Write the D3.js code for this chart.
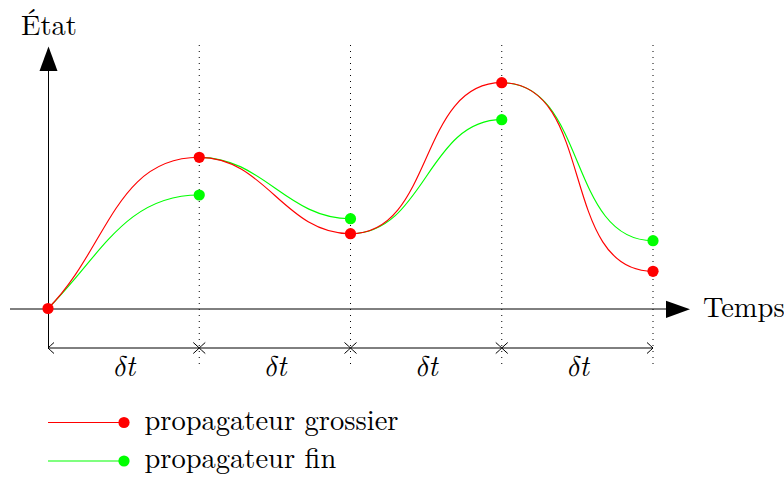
<!DOCTYPE html>
<html><head><meta charset="utf-8">
<script src="https://cdn.jsdelivr.net/npm/d3@7"></script>
<style>html,body{margin:0;padding:0;background:#fff;} svg{display:block;}</style>
</head><body>
<svg id="chart" width="784" height="477"></svg>
<script>
// ---- data ----
const steps = [0, 1, 2, 3, 4];
const coarse = [0, 1.512, 0.748, 2.258, 0.372];   // propagateur grossier
const fine   = [0, 1.135, 0.898, 1.888, 0.678];   // propagateur fin (end of each fine step)
const stepLabels = ["δt", "δt", "δt", "δt"];
const seriesNames = ["propagateur grossier", "propagateur fin"];
const seriesColors = ["#ff0000", "#00ff00"];
const axisLabels = { x: "Temps", y: "État" };

const FONT = "'Latin Modern Roman', 'Liberation Serif', serif";
const GREEK = "'Latin Modern Math', 'Liberation Serif', serif";
const FS = 28.5;

const svg = d3.select("#chart");
const x = d3.scaleLinear().domain([0, 4]).range([48, 653]);
const y = d3.scaleLinear().domain([0, 1]).range([308.5, 208.5]);

// dotted vertical lines
svg.append("g").selectAll("line").data(steps.slice(1)).join("line")
  .attr("x1", d => x(d)).attr("x2", d => x(d))
  .attr("y1", 45).attr("y2", 366)
  .attr("stroke", "#000").attr("stroke-width", 1)
  .attr("stroke-dasharray", "1,5");

// axes
svg.append("line").attr("x1", 10).attr("x2", 668).attr("y1", 309).attr("y2", 309)
  .attr("stroke", "#000").attr("stroke-width", 1);
svg.append("path").attr("d", "M690,309.3 L666,300.7 L666,318 Z").attr("fill", "#000");
svg.append("line").attr("x1", 48.5).attr("x2", 48.5).attr("y1", 348).attr("y2", 68)
  .attr("stroke", "#000").attr("stroke-width", 1);
svg.append("path").attr("d", "M48.5,46.5 L39.5,71 L57.5,71 Z").attr("fill", "#000");

svg.append("text").attr("x", 703).attr("y", 317)
  .style("font-family", FONT).style("font-size", FS + "px").attr("fill", "#000").text(axisLabels.x);
svg.append("text").attr("x", 21).attr("y", 35)
  .style("font-family", FONT).style("font-size", FS + "px").attr("fill", "#000").text(axisLabels.y);

// dimension lines
const dimY = 348;
const dim = svg.append("g");
function arrowHead(tipX, dir) {
  const p = d3.path();
  p.moveTo(tipX - dir * 6, dimY - 5.5);
  p.quadraticCurveTo(tipX - dir * 1.5, dimY - 1.5, tipX, dimY);
  p.quadraticCurveTo(tipX - dir * 1.5, dimY + 1.5, tipX - dir * 6, dimY + 5.5);
  return p.toString();
}
stepLabels.forEach((lab, i) => {
  const x0 = x(steps[i]), x1 = x(steps[i + 1]);
  dim.append("line").attr("x1", x0).attr("x2", x1).attr("y1", dimY).attr("y2", dimY)
    .attr("stroke", "#000").attr("stroke-width", 1);
  dim.append("path").attr("d", arrowHead(x0, -1)).attr("fill", "none").attr("stroke", "#000").attr("stroke-width", 1);
  dim.append("path").attr("d", arrowHead(x1, 1)).attr("fill", "none").attr("stroke", "#000").attr("stroke-width", 1);
  const t = dim.append("text").attr("x", (x0 + x1) / 2).attr("y", 376).attr("text-anchor", "middle")
    .style("font-size", FS + "px").style("font-style", "italic").attr("fill", "#000");
  t.append("tspan").style("font-family", GREEK).text(lab.charAt(0));
  t.append("tspan").style("font-family", FONT).text(lab.slice(1));
});

// bezier segment with horizontal end tangent (TikZ-like to[out,in=180])
function seg(x0, y0, x1, y1, outDeg) {
  const dist = Math.hypot(x1 - x0, y1 - y0);
  const c = 0.3915 * dist;
  const a = outDeg * Math.PI / 180;
  const p = d3.path();
  p.moveTo(x0, y0);
  p.bezierCurveTo(x0 + c * Math.cos(a), y0 - c * Math.sin(a), x1 - c, y1, x1, y1);
  return p.toString();
}
const outFirst = 45;
const curves = svg.append("g").attr("fill", "none").attr("stroke-width", 1.15);
for (let i = 0; i < steps.length - 1; i++) {
  curves.append("path")
    .attr("d", seg(x(steps[i]), y(coarse[i]), x(steps[i + 1]), y(fine[i + 1]), i === 0 ? outFirst : 0))
    .attr("stroke", seriesColors[1]);
}
for (let i = 0; i < steps.length - 1; i++) {
  curves.append("path")
    .attr("d", seg(x(steps[i]), y(coarse[i]), x(steps[i + 1]), y(coarse[i + 1]), i === 0 ? outFirst : 0))
    .attr("stroke", seriesColors[0]);
}

// points
svg.append("g").selectAll("circle").data(steps.slice(1)).join("circle")
  .attr("cx", d => x(d)).attr("cy", (d) => y(fine[d])).attr("r", 5.6).attr("fill", seriesColors[1]);
svg.append("g").selectAll("circle").data(steps).join("circle")
  .attr("cx", d => x(d)).attr("cy", d => y(coarse[d])).attr("r", 5.6).attr("fill", seriesColors[0]);

// legend
const leg = svg.append("g");
seriesNames.forEach((name, i) => {
  const ly = 422.5 + i * 38.5;
  leg.append("line").attr("x1", 48).attr("x2", 124).attr("y1", ly).attr("y2", ly)
    .attr("stroke", seriesColors[i]).attr("stroke-width", 1.2);
  leg.append("circle").attr("cx", 124).attr("cy", ly).attr("r", 5.6).attr("fill", seriesColors[i]);
  leg.append("text").attr("x", 144.5).attr("y", ly + 7)
    .style("font-family", FONT).style("font-size", FS + "px").attr("fill", "#000").text(name);
});
</script>
</body></html>
